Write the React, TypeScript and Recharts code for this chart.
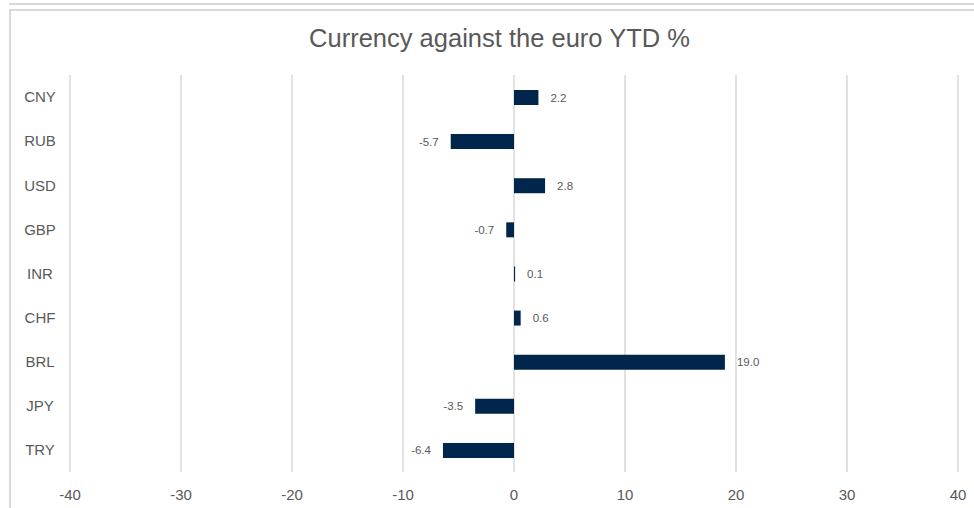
import React from "react";
import {
  BarChart,
  Bar,
  XAxis,
  YAxis,
  CartesianGrid,
  LabelList,
} from "recharts";

const currencies = ["CNY", "RUB", "USD", "GBP", "INR", "CHF", "BRL", "JPY", "TRY"];
const ytdChange = [2.2, -5.7, 2.8, -0.7, 0.1, 0.6, 19.0, -3.5, -6.4];
const xTicks = [-40, -30, -20, -10, 0, 10, 20, 30, 40];

const data = currencies.map((name, i) => ({ name, value: ytdChange[i] }));

const FONT = "'Liberation Sans', Arial, sans-serif";
const TEXT = "#595959";
const GRID = "#d9d9d9";
const BAR = "#00264b";

const CurrencyTick = (props: any) => {
  const { x, y, payload } = props;
  return (
    <text
      x={x - 22}
      y={y}
      dy="0.35em"
      textAnchor="middle"
      fontSize={15}
      fontFamily={FONT}
      fill={TEXT}
    >
      {payload.value}
    </text>
  );
};

const ValueLabel = (props: any) => {
  const { x, y, width, height, value } = props;
  const left = Math.min(x, x + width);
  const right = Math.max(x, x + width);
  const neg = value < 0;
  return (
    <text
      x={neg ? left - 12 : right + 12}
      y={y + height / 2}
      dy="0.35em"
      textAnchor={neg ? "end" : "start"}
      fontSize={11.5}
      fontFamily={FONT}
      fill={TEXT}
    >
      {Number(value).toFixed(1)}
    </text>
  );
};

export default function App() {
  return (
    <div
      style={{
        position: "absolute",
        left: 0,
        top: 0,
        width: 974,
        height: 508,
        background: "#fff",
        overflow: "hidden",
        fontFamily: FONT,
      }}
    >
      {/* frame lines from the spreadsheet screenshot */}
      <div
        style={{
          position: "absolute",
          left: 9,
          top: 3,
          width: 980,
          height: 0,
          borderTop: `2px solid ${GRID}`,
        }}
      />
      <div
        style={{
          position: "absolute",
          left: 9,
          top: 9,
          width: 980,
          height: 520,
          border: `2px solid ${GRID}`,
          boxSizing: "border-box",
        }}
      />
      <div
        style={{
          position: "absolute",
          left: 0,
          width: 999,
          top: 22,
          textAlign: "center",
          fontSize: 25.5,
          color: TEXT,
          lineHeight: "32px",
        }}
      >
        Currency against the euro YTD %
      </div>
      <div style={{ position: "absolute", left: 0, top: 0 }}>
        <BarChart
          width={974}
          height={508}
          data={data}
          layout="vertical"
          margin={{ top: 75, right: 16, bottom: 6, left: 10 }}
        >
          <CartesianGrid horizontal={false} stroke={GRID} strokeWidth={1.5} />
          <XAxis
            type="number"
            domain={[-40, 40]}
            ticks={xTicks}
            axisLine={false}
            tickLine={false}
            tickMargin={11}
            height={30}
            tick={{ fontSize: 15, fill: TEXT, fontFamily: FONT }}
            interval={0}
          />
          <YAxis
            type="category"
            dataKey="name"
            width={60}
            axisLine={false}
            tickLine={false}
            tick={<CurrencyTick />}
            interval={0}
          />
          <Bar
            dataKey="value"
            fill={BAR}
            barSize={15}
            isAnimationActive={false}
          >
            <LabelList dataKey="value" content={<ValueLabel />} />
          </Bar>
        </BarChart>
      </div>
    </div>
  );
}
